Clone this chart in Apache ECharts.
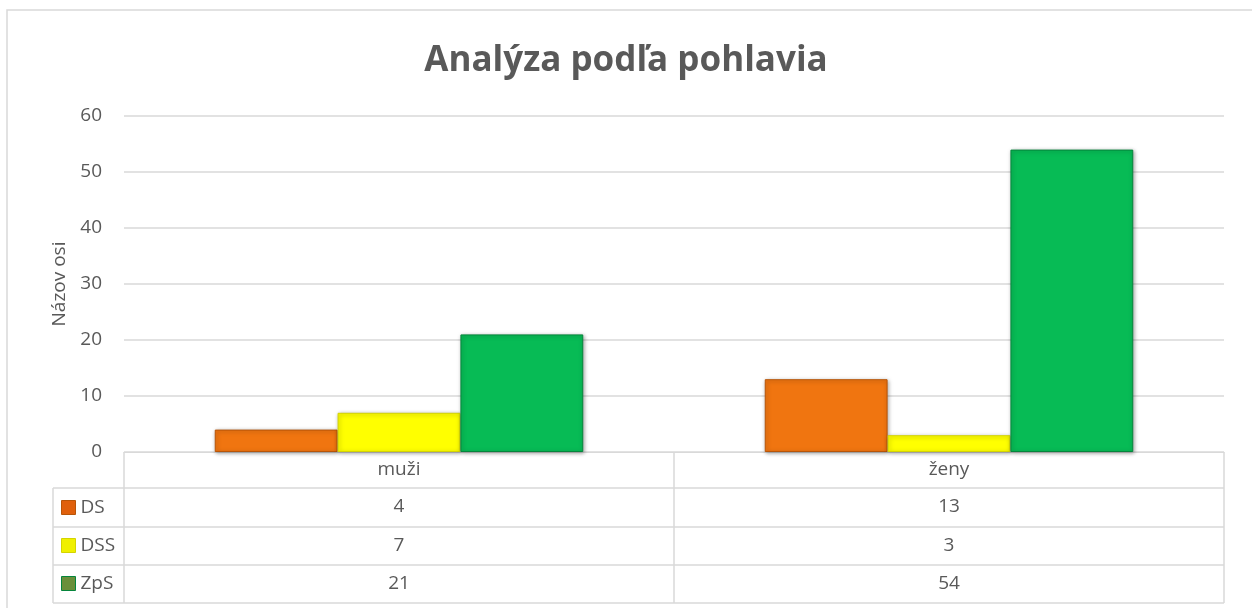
<!DOCTYPE html>
<html>
<head>
<meta charset="utf-8">
<script src="https://cdn.jsdelivr.net/npm/echarts@6/dist/echarts.min.js"></script>
<style>
  html, body { margin: 0; padding: 0; background: #fff; }
  #chart { width: 1252px; height: 608px; }
</style>
</head>
<body>
<div id="chart"></div>
<script>
var categories = ['muži', 'ženy'];
var seriesNames = ['DS', 'DSS', 'ZpS'];
var dsValues = [4, 13];
var dssValues = [7, 3];
var zpsValues = [21, 54];

var barColors = ['#f07510', '#ffff00', '#07bb55'];
var barBorders = ['#b85508', '#d4d400', '#05853c'];
var keyColors = ['#e0600c', '#f0f000', '#6a8f3a'];
var allValues = [dsValues, dssValues, zpsValues];

var font = '"Open Sans", sans-serif';
var textColor = '#595959';
var lineColor = '#d9d9d9';

var chart = echarts.init(document.getElementById('chart'));

// table value rows as extra category axes under the plot
var rowOffsets = [37, 76, 114];
var xAxes = [{
  type: 'category',
  data: categories,
  axisLine: { lineStyle: { color: lineColor, width: 1 } },
  axisTick: { show: true, length: 151, lineStyle: { color: lineColor, width: 1.5 } },
  axisLabel: { color: textColor, fontSize: 19, fontFamily: font, margin: 8 }
}];
allValues.forEach(function (vals, i) {
  xAxes.push({
    type: 'category',
    position: 'bottom',
    offset: rowOffsets[i],
    data: vals.map(String),
    axisLine: { show: false },
    axisTick: { show: false },
    axisLabel: { color: textColor, fontSize: 19, fontFamily: font, margin: 8 }
  });
});

var series = seriesNames.map(function (name, i) {
  return {
    name: name,
    type: 'bar',
    xAxisIndex: 0,
    barGap: '0%',
    barCategoryGap: '33%',
    data: allValues[i],
    itemStyle: {
      color: barColors[i],
      borderColor: barBorders[i],
      borderWidth: 1,
      shadowBlur: 4,
      shadowColor: 'rgba(0,0,0,0.35)',
      shadowOffsetX: 1,
      shadowOffsetY: 1
    }
  };
});

var rowLines = [488, 527, 565, 603];
var graphics = [{
  type: 'rect',
  shape: { x: 7, y: 10, width: 1300, height: 700 },
  style: { fill: 'none', stroke: lineColor, lineWidth: 1.5 },
  silent: true
}, {
  type: 'line',
  shape: { x1: 53, y1: 488, x2: 53, y2: 603 },
  style: { stroke: lineColor, lineWidth: 1.5 }
}];
rowLines.forEach(function (y) {
  graphics.push({
    type: 'line',
    shape: { x1: 53, y1: y, x2: 1224, y2: y },
    style: { stroke: lineColor, lineWidth: 1.5 }
  });
});

chart.setOption({
  animation: false,
  title: {
    text: 'Analýza podľa pohlavia',
    left: 'center',
    top: 39,
    textStyle: { fontSize: 35, fontWeight: 'bold', color: textColor, fontFamily: font }
  },
  legend: {
    orient: 'vertical',
    left: 61,
    top: 498,
    padding: 0,
    itemGap: 19,
    itemWidth: 14,
    itemHeight: 14,
    icon: 'rect',
    textStyle: { color: textColor, fontSize: 19, fontFamily: font, padding: [0, 0, 0, 0] },
    data: seriesNames.map(function (n, i) {
      return { name: n, itemStyle: { color: keyColors[i], borderColor: barBorders[i], borderWidth: 1 } };
    })
  },
  grid: { left: 124, right: 28, top: 116, bottom: 156, containLabel: false },
  xAxis: xAxes,
  yAxis: {
    type: 'value',
    min: 0,
    max: 60,
    interval: 10,
    name: 'Názov osi',
    nameLocation: 'middle',
    nameGap: 55,
    nameRotate: 90,
    nameTextStyle: { color: textColor, fontSize: 19, fontFamily: font },
    axisLine: { show: false },
    axisTick: { show: false },
    axisLabel: { color: textColor, fontSize: 19, fontFamily: font, margin: 22 },
    splitLine: { lineStyle: { color: lineColor, width: 1.5 } }
  },
  series: series,
  graphic: graphics
});
</script>
</body>
</html>
